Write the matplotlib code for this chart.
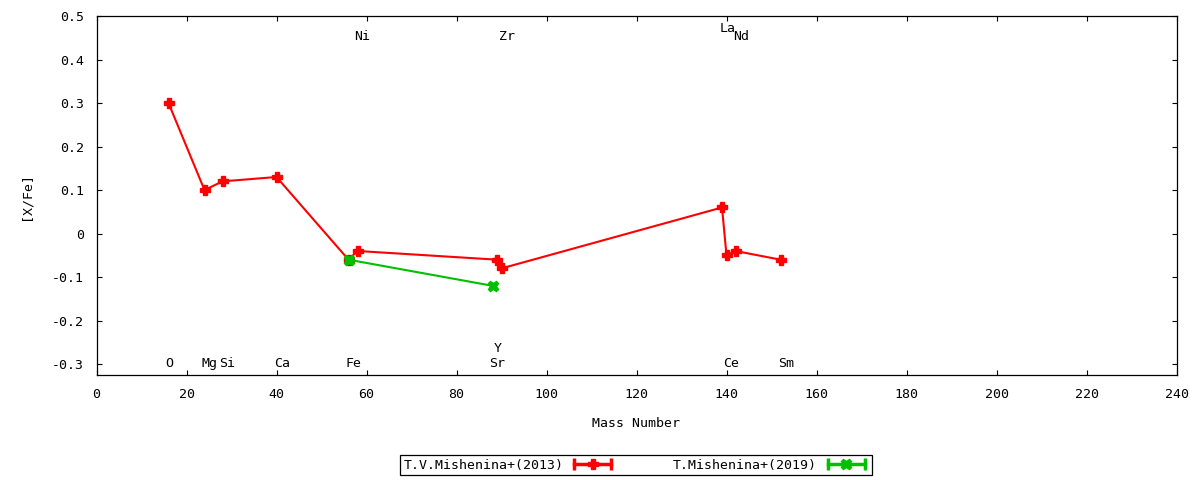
import matplotlib
matplotlib.use("Agg")
import matplotlib.pyplot as plt
from matplotlib.lines import Line2D
from matplotlib.legend_handler import HandlerLine2D, HandlerTuple
from matplotlib.ticker import FuncFormatter

plt.rcParams['font.family'] = ['DejaVu Sans Mono']
plt.rcParams['font.size'] = 9.5

# red series: T.V.Mishenina+(2013)
mass_2013 = [16, 24, 28, 40, 56, 58, 89, 90, 139, 140, 142, 152]
xfe_2013 = [0.30, 0.10, 0.12, 0.13, -0.06, -0.04, -0.06, -0.08, 0.06, -0.05, -0.04, -0.06]

# green series: T.Mishenina+(2019)
mass_2019 = [56, 88]
xfe_2019 = [-0.06, -0.12]

# element labels (name, x, y)
elem_names = ["O", "Mg", "Si", "Ca", "Fe", "Sr", "Y", "Ce", "Sm", "Ni", "Zr", "La", "Nd"]
elem_x = [16.1, 25.1, 29.1, 41.2, 57.2, 89.0, 89.2, 141.0, 153.2, 59.0, 91.2, 140.3, 143.2]
elem_y = [-0.298, -0.298, -0.298, -0.298, -0.298, -0.298, -0.263, -0.298, -0.298,
          0.452, 0.452, 0.472, 0.452]

red = '#ff0000'
green = '#00c000'

fig = plt.figure(figsize=(12, 4.8), dpi=100)
ax = fig.add_axes([96.5/1200, 1 - 375/480, (1176.5-96.5)/1200, (375-16)/480])

ax.plot(mass_2013, xfe_2013, color=red, lw=1.5, marker='P', ms=7.5, mec=red, mfc=red)
ax.plot(mass_2019, xfe_2019, color=green, lw=1.5, marker='X', ms=7.5, mec=green, mfc=green)

for name, x, y in zip(elem_names, elem_x, elem_y):
    ax.text(x, y, name, ha='center', va='center', fontsize=9.5)

ax.set_xlim(0, 240)
ax.set_ylim(-0.325, 0.5)
ax.set_xticks(range(0, 241, 20))
ax.set_yticks([0.5, 0.4, 0.3, 0.2, 0.1, 0, -0.1, -0.2, -0.3])
ax.yaxis.set_major_formatter(FuncFormatter(lambda v, p: "%g" % round(v, 2)))
ax.tick_params(direction='in', length=3.5, width=0.8, top=True, right=True, pad=9)
for s in ax.spines.values():
    s.set_linewidth(0.9)

ax.set_xlabel("Mass Number", labelpad=12)
ax.set_ylabel("[X/Fe]", labelpad=14)

# gnuplot style key: line with end caps, marker in the middle
caps_r = Line2D([], [], color=red, lw=2.5, marker='|', ms=9, mew=2.5)
pt_r = Line2D([], [], color=red, lw=0, marker='P', ms=7.5)
caps_g = Line2D([], [], color=green, lw=2.5, marker='|', ms=9, mew=2.5)
pt_g = Line2D([], [], color=green, lw=0, marker='X', ms=7.5)
hmap = {caps_r: HandlerLine2D(numpoints=2), caps_g: HandlerLine2D(numpoints=2),
        tuple: HandlerTuple(ndivide=1)}
leg = fig.legend([(caps_r, pt_r), (caps_g, pt_g)],
                 ["T.V.Mishenina+(2013)", "T.Mishenina+(2019)"],
                 handler_map=hmap,
                 loc='center', bbox_to_anchor=(636/1200, 1 - 465/480), ncol=2,
                 markerfirst=False, fancybox=False, framealpha=1, edgecolor='black',
                 borderpad=0.25, handlelength=3.4, columnspacing=4.4, handletextpad=0.5,
                 borderaxespad=0)
leg.get_frame().set_linewidth(0.9)

fig.savefig("out.png", dpi=100)
